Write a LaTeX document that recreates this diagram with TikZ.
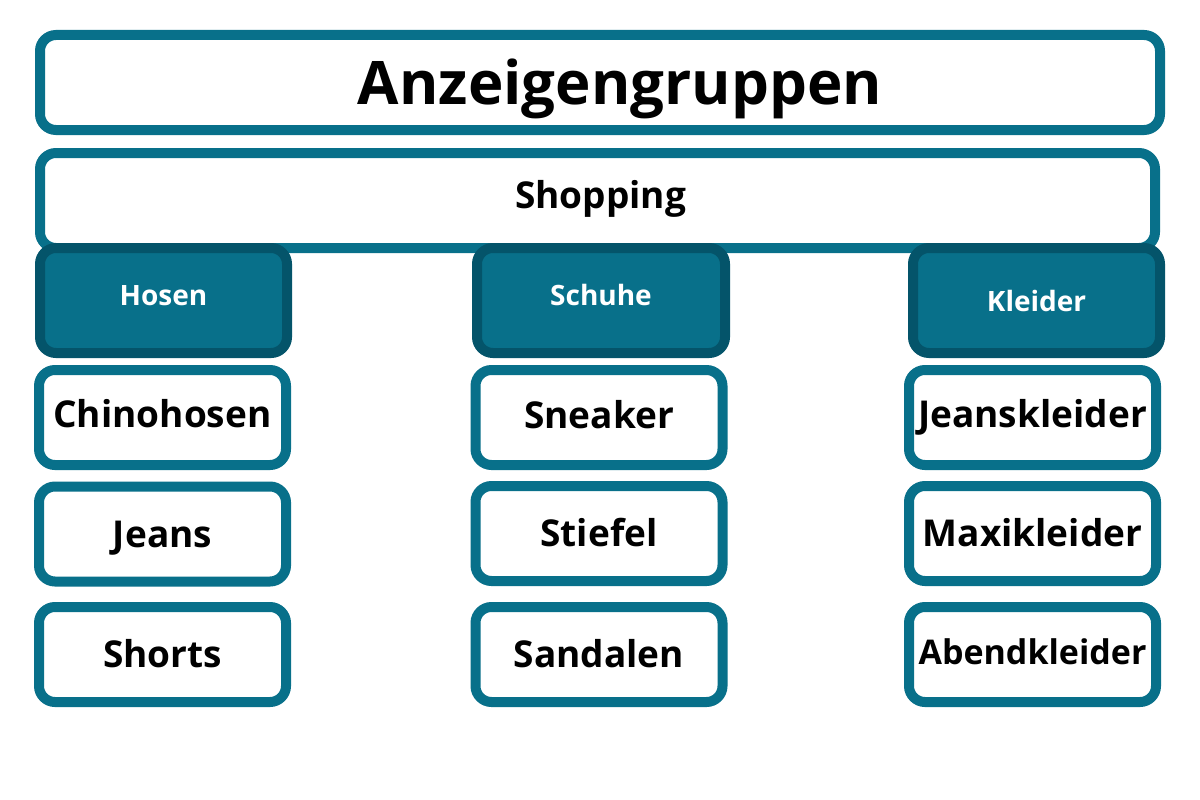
\documentclass[tikz,border=0pt]{standalone}
\usepackage{fontspec}
\setmainfont{Open Sans}
\definecolor{teal1}{HTML}{08708A}
\definecolor{tealdark}{HTML}{04546A}
\tikzset{
  box/.style={draw=teal1, line width=10pt, rounded corners=16pt, fill=white,
    inner sep=0pt, align=center, text=black},
  catbox/.style={draw=tealdark, line width=10pt, rounded corners=16pt, fill=teal1,
    inner sep=0pt, align=center, text=white, font=\bfseries\fontsize{28}{30}\selectfont,
    text height=20pt, text depth=0pt},
  leaf/.style={box, minimum width=247pt, minimum height=95pt,
    font=\bfseries\fontsize{37}{40}\selectfont, text height=26.4pt, text depth=0pt},
}
\begin{document}
\begin{tikzpicture}[x=1pt,y=-1pt]
\useasboundingbox (0,0) rectangle (1200,800);
\fill[white] (0,0) rectangle (1200,800);
% title
\node[box, minimum width=1120pt, minimum height=95pt,
  font=\bfseries\fontsize{60}{64}\selectfont, text height=44pt, text depth=0pt]
  (title) at (600,82.5) {\hspace*{40pt}Anzeigengruppen};
% shopping
\node[box, minimum width=1115pt, minimum height=95pt,
  font=\bfseries\fontsize{37}{40}\selectfont, text height=26.4pt, text depth=10pt]
  (shop) at (597.5,200.5) {\hspace*{6pt}Shopping};
% categories
\node[catbox, minimum width=247pt, minimum height=105pt, text depth=10pt] (hosen) at (163.5,300.5) {Hosen};
\node[catbox, minimum width=248pt, minimum height=105pt, text depth=10pt] (schuhe) at (601,300.5) {Schuhe};
\node[catbox, minimum width=247pt, minimum height=105pt, text height=22pt] (kleider) at (1036.5,300.5) {Kleider};
% leaves left
\node[leaf, text depth=7pt] (chino) at (162.5,417.5) {Chinohosen};
\node[leaf] (jeans) at (162.5,534) {Jeans};
\node[leaf] (shorts) at (162.5,654.5) {Shorts};
% leaves middle
\node[leaf, text depth=5pt] (sneaker) at (599,417.5) {Sneaker};
\node[leaf] (stiefel) at (599,533.5) {Stiefel};
\node[leaf] (sandalen) at (599,654.5) {Sandalen};
% leaves right
\node[leaf, text depth=6pt] (jk) at (1032.5,417.5) {Jeanskleider};
\node[leaf] (mk) at (1032.5,533.5) {Maxikleider};
\node[leaf, font=\bfseries\fontsize{34}{38}\selectfont, text height=24.3pt, text depth=4pt] (ak) at (1032.5,654.5) {Abendkleider};
\end{tikzpicture}
\end{document}
